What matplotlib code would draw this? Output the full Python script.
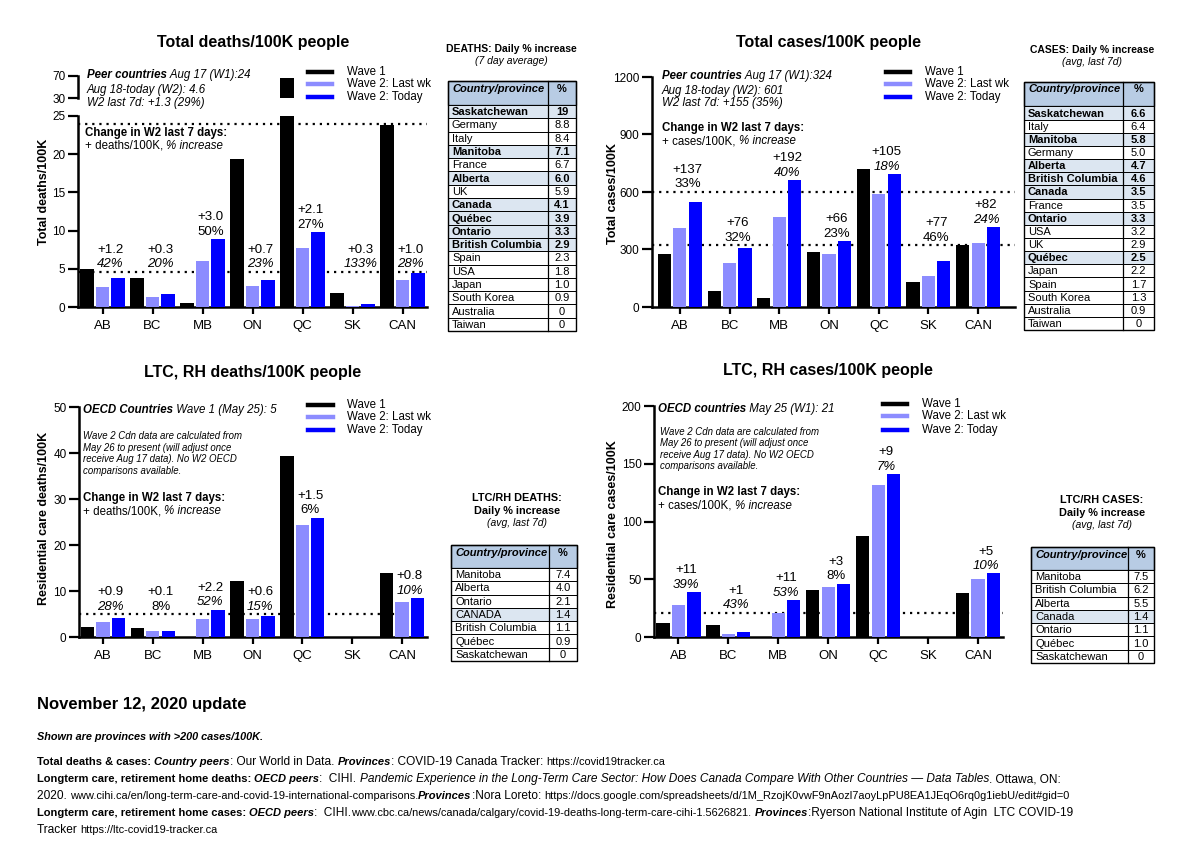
import matplotlib
matplotlib.use("Agg")
import matplotlib.pyplot as plt
from matplotlib.lines import Line2D
from matplotlib.patches import Rectangle
import numpy as np

plt.rcParams['font.family'] = ['Liberation Sans', 'DejaVu Sans']

W, H = 1200, 846
C_W1 = 'black'
C_LAST = '#8c8cff'
C_TODAY = '#0000ff'
HEAD = '#b8cce4'
SHADE = '#dce6f1'

provs = ['AB', 'BC', 'MB', 'ON', 'QC', 'SK', 'CAN']

# total deaths / 100K
deaths_w1 = [5.0, 3.8, 0.5, 19.4, 67, 1.8, 23.8]
deaths_last = [2.6, 1.3, 6.0, 2.7, 7.7, 0.1, 3.5]
deaths_today = [3.8, 1.7, 8.9, 3.5, 9.8, 0.4, 4.5]
deaths_chg = ['+1.2', '+0.3', '+3.0', '+0.7', '+2.1', '+0.3', '+1.0']
deaths_pct = ['42%', '20%', '50%', '23%', '27%', '133%', '28%']
deaths_pct_it = [1, 1, 0, 1, 0, 1, 1]
deaths_peer = [24, 4.6]

# total cases / 100K
cases_w1 = [278, 83, 47, 287, 722, 129, 322]
cases_last = [412, 231, 470, 278, 588, 162, 336]
cases_today = [548, 308, 661, 344, 692, 240, 417]
cases_chg = ['+137', '+76', '+192', '+66', '+105', '+77', '+82']
cases_pct = ['33%', '32%', '40%', '23%', '18%', '46%', '24%']
cases_pct_it = [0, 0, 1, 0, 1, 0, 1]
cases_peer = [601, 324]

# LTC / RH deaths
ltcd_w1 = [2.2, 1.9, 0, 12.1, 39.4, 0, 14.0]
ltcd_last = [3.2, 1.2, 3.9, 3.9, 24.3, 0, 7.6]
ltcd_today = [4.2, 1.2, 5.9, 4.5, 25.9, 0, 8.4]
ltcd_chg = ['+0.9', '+0.1', '+2.2', '+0.6', '+1.5', None, '+0.8']
ltcd_pct = ['28%', '8%', '52%', '15%', '6%', None, '10%']
ltcd_pct_it = [1, 0, 1, 1, 0, 0, 1]
ltcd_peer = [5]

# LTC / RH cases
ltcc_w1 = [12, 10, 0, 41, 87.5, 0, 38.5]
ltcc_last = [28, 2.5, 21, 43, 131.5, 0, 50]
ltcc_today = [39, 4, 32, 46, 141, 0, 55]
ltcc_chg = ['+11', '+1', '+11', '+3', '+9', None, '+5']
ltcc_pct = ['39%', '43%', '53%', '8%', '7%', None, '10%']
ltcc_pct_it = [1, 1, 1, 0, 1, 0, 1]
ltcc_peer = [21]

# tables
tab_deaths_names = ['Saskatchewan', 'Germany', 'Italy', 'Manitoba', 'France', 'Alberta', 'UK', 'Canada',
                    'Québec', 'Ontario', 'British Columbia', 'Spain', 'USA', 'Japan', 'South Korea',
                    'Australia', 'Taiwan']
tab_deaths_vals = ['19', '8.8', '8.4', '7.1', '6.7', '6.0', '5.9', '4.1', '3.9', '3.3', '2.9', '2.3',
                   '1.8', '1.0', '0.9', '0', '0']
tab_cases_names = ['Saskatchewan', 'Italy', 'Manitoba', 'Germany', 'Alberta', 'British Columbia', 'Canada',
                   'France', 'Ontario', 'USA', 'UK', 'Québec', 'Japan', 'Spain', 'South Korea',
                   'Australia', 'Taiwan']
tab_cases_vals = ['6.6', '6.4', '5.8', '5.0', '4.7', '4.6', '3.5', '3.5', '3.3', '3.2', '2.9', '2.5',
                  '2.2', '1.7', '1.3', '0.9', '0']
tab_ltcd_names = ['Manitoba', 'Alberta', 'Ontario', 'CANADA', 'British Columbia', 'Québec', 'Saskatchewan']
tab_ltcd_vals = ['7.4', '4.0', '2.1', '1.4', '1.1', '0.9', '0']
tab_ltcc_names = ['Manitoba', 'British Columbia', 'Alberta', 'Canada', 'Ontario', 'Québec', 'Saskatchewan']
tab_ltcc_vals = ['7.5', '6.2', '5.5', '1.4', '1.1', '1.0', '0']
canadian = {'Saskatchewan', 'Manitoba', 'Alberta', 'Canada', 'Québec', 'Ontario', 'British Columbia'}

fig = plt.figure(figsize=(12, 8.46), dpi=100)
fig.patch.set_facecolor('white')


def px_axes(l, t, r, b):
    ax = fig.add_axes([l / W, 1 - b / H, (r - l) / W, (b - t) / H])
    ax.patch.set_visible(False)
    return ax


x = np.arange(len(provs))
bw, off = 0.265, 0.31


def style(ax, ymax, ticks, xl, show_x=True):
    ax.set_xlim(*xl)
    ax.set_ylim(0 if show_x else ticks[0], ymax)
    ax.set_yticks(ticks)
    for s in ['top', 'right']:
        ax.spines[s].set_visible(False)
    ax.spines['left'].set_linewidth(1.8)
    ax.spines['bottom'].set_linewidth(1.8)
    ax.tick_params(axis='y', length=7, width=1.6, labelsize=8.5, pad=2)
    if show_x:
        ax.set_xticks(x)
        ax.set_xticklabels(provs)
        ax.tick_params(axis='x', length=5, width=1.6, labelsize=9.5, pad=4)
    else:
        ax.spines['bottom'].set_visible(False)
        ax.set_xticks([])


def bars(ax, w1, last, today, peers):
    ax.bar(x - off, w1, bw, color=C_W1, zorder=3)
    ax.bar(x, last, bw, color=C_LAST, zorder=3)
    ax.bar(x + off, today, bw, color=C_TODAY, zorder=3)
    for p in peers:
        ax.axhline(p, color='black', lw=1.6, ls=(0, (1, 2.2)), zorder=1)


def labels(ax, today, peers, chg, pct, pit, top):
    for i in range(len(provs)):
        if chg[i] is None:
            continue
        base = today[i]
        for p in peers:
            if today[i] < p < today[i] + 0.15 * top:
                base = p
        xc = x[i] + off / 2
        ax.annotate(pct[i], (xc, base), xytext=(0, 1), textcoords='offset points', ha='center',
                    va='bottom', fontsize=9.5, fontstyle='italic' if pit[i] else 'normal')
        ax.annotate(chg[i], (xc, base), xytext=(0, 11.5), textcoords='offset points', ha='center',
                    va='bottom', fontsize=9.5)


# top-left: total deaths (broken axis)
ax1 = px_axes(78, 116, 427, 307)
ax1u = px_axes(78, 76, 427, 98)
style(ax1, 25, [0, 5, 10, 15, 20, 25], (-0.49, 6.49))
style(ax1u, 70, [30, 70], (-0.49, 6.49), show_x=False)
bars(ax1, deaths_w1, deaths_last, deaths_today, deaths_peer)
bars(ax1u, deaths_w1, deaths_last, deaths_today, [])
labels(ax1, deaths_today, deaths_peer, deaths_chg, deaths_pct, deaths_pct_it, 70)

# top-right: total cases
ax2 = px_axes(652, 77, 1015, 307)
style(ax2, 1200, [0, 300, 600, 900, 1200], (-0.56, 6.74))
bars(ax2, cases_w1, cases_last, cases_today, cases_peer)
labels(ax2, cases_today, cases_peer, cases_chg, cases_pct, cases_pct_it, 1200)

# bottom-left: LTC deaths
ax3 = px_axes(79, 407, 427, 637)
style(ax3, 50, [0, 10, 20, 30, 40, 50], (-0.48, 6.5))
bars(ax3, ltcd_w1, ltcd_last, ltcd_today, ltcd_peer)
labels(ax3, ltcd_today, ltcd_peer, ltcd_chg, ltcd_pct, ltcd_pct_it, 50)

# bottom-right: LTC cases
ax4 = px_axes(654, 406, 1003, 637)
style(ax4, 200, [0, 50, 100, 150, 200], (-0.49, 6.5))
bars(ax4, ltcc_w1, ltcc_last, ltcc_today, ltcc_peer)
labels(ax4, ltcc_today, ltcc_peer, ltcc_chg, ltcc_pct, ltcc_pct_it, 200)

# overlay in pixel coordinates for all the free text
ov = fig.add_axes([0, 0, 1, 1], zorder=10)
ov.set_xlim(0, W)
ov.set_ylim(H, 0)
ov.axis('off')
ov.patch.set_visible(False)
rend = fig.canvas.get_renderer()


def runs(x0, y0, parts, va='center'):
    for txt, size, wt, st in parts:
        t = ov.text(x0, y0, txt, fontsize=size, fontweight=wt, fontstyle=st, va=va, ha='left')
        x0 += t.get_window_extent(rend).width


def legend(x0, x1, xt, ys):
    for y, c, lab in zip(ys, [C_W1, C_LAST, C_TODAY], ['Wave 1', 'Wave 2: Last wk', 'Wave 2: Today']):
        ov.add_line(Line2D([x0, x1], [y, y], color=c, lw=3.2))
        ov.text(xt, y, lab, fontsize=8.3, va='center')


TF = 8.0


def table(names, vals, shade, bold, left, div, right, top, head_h, row_h):
    n = len(names)
    ov.add_patch(Rectangle((left, top), right - left, head_h, fc=HEAD, ec='black', lw=0.9))
    ov.text(left + 4, top + 2.5, 'Country/province', fontsize=TF, fontweight='bold', fontstyle='italic',
            va='top')
    ov.text((div + right) / 2, top + 2.5, '%', fontsize=TF, fontweight='bold', va='top', ha='center')
    for i in range(n):
        y0 = top + head_h + i * row_h
        sh = names[i] in shade
        ov.add_patch(Rectangle((left, y0), right - left, row_h, fc=SHADE if sh else 'white', ec='black', lw=0.7))
        wt = 'bold' if (bold and sh) else 'normal'
        ov.text(left + 4, y0 + row_h / 2 + 0.5, names[i], fontsize=TF, fontweight=wt, va='center')
        ov.text((div + right) / 2, y0 + row_h / 2 + 0.5, vals[i], fontsize=TF, fontweight=wt, va='center',
                ha='center')
    ov.add_line(Line2D([div, div], [top, top + head_h + n * row_h], color='black', lw=0.9))
    ov.add_patch(Rectangle((left, top), right - left, head_h + n * row_h, fc='none', ec='black', lw=1.0))


# titles
for tx, ty, tt in [(253, 43, 'Total deaths/100K people'), (829, 43, 'Total cases/100K people'),
                   (253, 372, 'LTC, RH deaths/100K people'), (828, 371, 'LTC, RH cases/100K people')]:
    ov.text(tx, ty, tt, fontsize=11.5, fontweight='bold', ha='center', va='center')

# y labels
for tx, ty, tt in [(44, 192, 'Total deaths/100K'), (613, 194, 'Total cases/100K'),
                   (44, 518, 'Residential care deaths/100K'), (613, 524, 'Residential care cases/100K')]:
    ov.text(tx, ty, tt, fontsize=9, fontweight='bold', ha='center', va='center', rotation=90)

legend(308, 332, 347, [72, 84, 97])
legend(886, 910, 925, [72, 84, 97])
legend(308, 333, 347, [405, 417, 430])
legend(883, 907, 922, [404, 416, 430])

# inset notes
S = 8.3
runs(87, 75, [('Peer countries', S, 'bold', 'italic'), (' Aug 17 (W1):24', S, 'normal', 'italic')])
runs(87, 90, [('Aug 18-today (W2): 4.6', S, 'normal', 'italic')])
runs(87, 103, [('W2 last 7d: +1.3 (29%)', S, 'normal', 'italic')])
runs(85, 133, [('Change in W2 last 7 days:', S, 'bold', 'normal')])
runs(85, 146, [('+ deaths/100K, ', S, 'normal', 'normal'), ('% increase', S, 'normal', 'italic')])

runs(662, 76, [('Peer countries', S, 'bold', 'italic'), (' Aug 17 (W1):324', S, 'normal', 'italic')])
runs(662, 91, [('Aug 18-today (W2): 601', S, 'normal', 'italic')])
runs(662, 103, [('W2 last 7d: +155 (35%)', S, 'normal', 'italic')])
runs(662, 128, [('Change in W2 last 7 days:', S, 'bold', 'normal')])
runs(662, 141, [('+ cases/100K, ', S, 'normal', 'normal'), ('% increase', S, 'normal', 'italic')])

note = ['Wave 2 Cdn data are calculated from', 'May 26 to present (will adjust once',
        'receive Aug 17 data). No W2 OECD', 'comparisons available.']
runs(83, 410, [('OECD Countries', S, 'bold', 'italic'), (' Wave 1 (May 25): 5', S, 'normal', 'italic')])
for k, line in enumerate(note):
    runs(83, 436 + k * 11.7, [(line, 6.9, 'normal', 'italic')])
runs(83, 498, [('Change in W2 last 7 days:', S, 'bold', 'normal')])
runs(83, 511, [('+ deaths/100K, ', S, 'normal', 'normal'), ('% increase', S, 'normal', 'italic')])

runs(658, 409, [('OECD countries', S, 'bold', 'italic'), (' May 25 (W1): 21', S, 'normal', 'italic')])
for k, line in enumerate(note):
    runs(660, 432 + k * 11.3, [(line, 6.9, 'normal', 'italic')])
runs(658, 492, [('Change in W2 last 7 days:', S, 'bold', 'normal')])
runs(658, 506, [('+ cases/100K, ', S, 'normal', 'normal'), ('% increase', S, 'normal', 'italic')])

# table headings
ov.text(511, 49, 'DEATHS: Daily % increase', fontsize=7.5, fontweight='bold', ha='center', va='center')
ov.text(511, 61, '(7 day average)', fontsize=7.5, fontstyle='italic', ha='center', va='center')
ov.text(1092, 50, 'CASES: Daily % increase', fontsize=7.5, fontweight='bold', ha='center', va='center')
ov.text(1092, 62, '(avg, last 7d)', fontsize=7.5, fontstyle='italic', ha='center', va='center')
for cx, ys, t1 in [(517, (498, 511, 523), 'LTC/RH DEATHS:'), (1102, (500, 513, 525), 'LTC/RH CASES:')]:
    ov.text(cx, ys[0], t1, fontsize=7.8, fontweight='bold', ha='center', va='center')
    ov.text(cx, ys[1], 'Daily % increase', fontsize=7.8, fontweight='bold', ha='center', va='center')
    ov.text(cx, ys[2], '(avg, last 7d)', fontsize=7.5, fontstyle='italic', ha='center', va='center')

table(tab_deaths_names, tab_deaths_vals, canadian, True, 448, 548, 576, 81, 24, 13.3)
table(tab_cases_names, tab_cases_vals, canadian, True, 1024, 1123, 1154, 82, 24.5, 13.15)
table(tab_ltcd_names, tab_ltcd_vals, {'CANADA'}, False, 451, 549, 577, 545, 23, 13.3)
table(tab_ltcc_names, tab_ltcc_vals, {'Canada'}, False, 1031, 1128, 1154, 547, 23, 13.3)

# footer
ov.text(37, 705, 'November 12, 2020 update', fontsize=12, fontweight='bold', va='center')
ov.text(37, 737, 'Shown are provinces with >200 cases/100K.', fontsize=7.8, fontweight='bold',
        fontstyle='italic', va='center')
F, B, U = 8.6, 8.0, 7.9
runs(37, 762, [('Total deaths & cases: ', B, 'bold', 'normal'), ('Country peers', B, 'bold', 'italic'),
               (': Our World in Data. ', F, 'normal', 'normal'), ('Provinces', B, 'bold', 'italic'),
               (': COVID-19 Canada Tracker: ', F, 'normal', 'normal'),
               ('https://covid19tracker.ca', U, 'normal', 'normal')])
runs(37, 779, [('Longterm care, retirement home deaths: ', B, 'bold', 'normal'),
               ('OECD peers', B, 'bold', 'italic'), (':  CIHI. ', F, 'normal', 'normal'),
               ('Pandemic Experience in the Long-Term Care Sector: How Does Canada Compare With Other '
                'Countries \u2014 Data Tables', F, 'normal', 'italic'),
               ('. Ottawa, ON:', F, 'normal', 'normal')])
runs(37, 796, [('2020. ', F, 'normal', 'normal'),
               ('www.cihi.ca/en/long-term-care-and-covid-19-international-comparisons.', U, 'normal', 'normal'),
               ('Provinces', B, 'bold', 'italic'), (':Nora Loreto: ', F, 'normal', 'normal'),
               ('https://docs.google.com/spreadsheets/d/1M_RzojK0vwF9nAozl7aoyLpPU8EA1JEqO6rq0g1iebU/edit#gid=0',
                U, 'normal', 'normal')])
runs(37, 813, [('Longterm care, retirement home cases: ', B, 'bold', 'normal'),
               ('OECD peers', B, 'bold', 'italic'), (':  CIHI.', F, 'normal', 'normal'),
               ('www.cbc.ca/news/canada/calgary/covid-19-deaths-long-term-care-cihi-1.5626821. ', U, 'normal',
                'normal'),
               ('Provinces', B, 'bold', 'italic'),
               (':Ryerson National Institute of Agin  LTC COVID-19', F, 'normal', 'normal')])
runs(37, 830, [('Tracker ', F, 'normal', 'normal'), ('https://ltc-covid19-tracker.ca', U, 'normal', 'normal')])

fig.savefig('out.png', dpi=100)
